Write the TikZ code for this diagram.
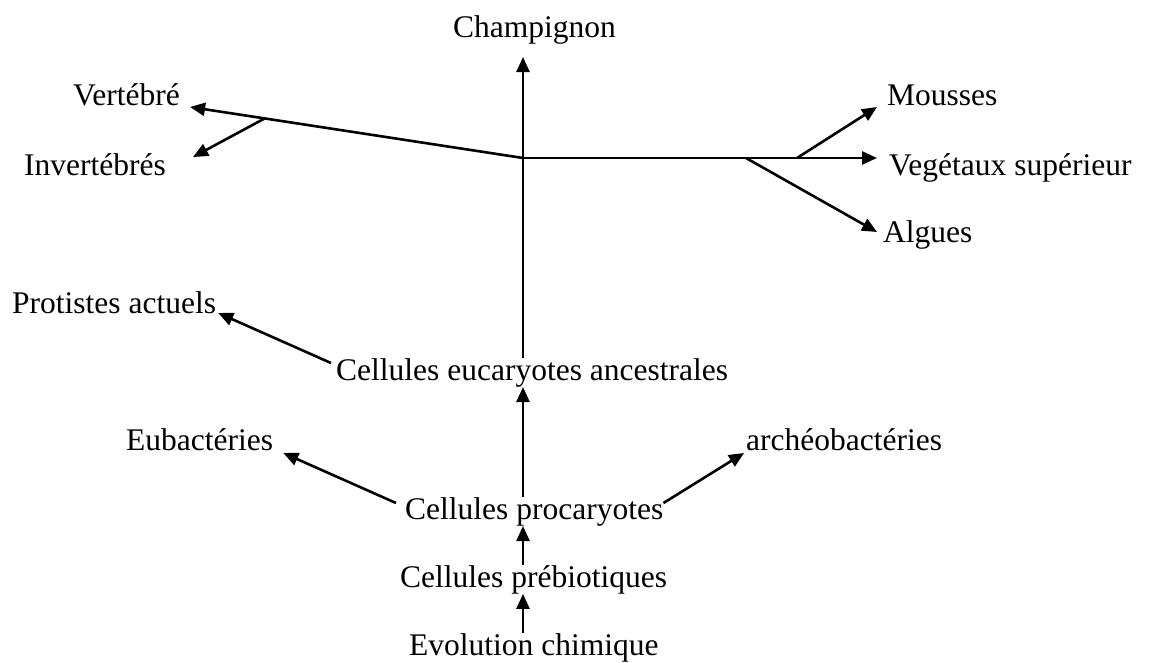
\documentclass[tikz,border=0pt]{standalone}
\usepackage{fontspec}
\setmainfont{Liberation Serif}
\usetikzlibrary{arrows.meta,calc}

\begin{document}
\begin{tikzpicture}[
  x=1pt, y=-1pt,
  font=\fontsize{31.5}{38}\selectfont,
  lbl/.style={inner sep=0pt, anchor=base west},
  link/.style={line width=2.6pt},
  >={Triangle[length=15pt,width=13pt]},
]
  \useasboundingbox (0,0) rectangle (1151,662);

  % main column
  \node[lbl] (evol) at (409,655) {Evolution chimique};
  \node[lbl] (preb) at (400,587) {Cellules prébiotiques};
  \node[lbl] (proc) at (405,519) {Cellules procaryotes};
  \node[lbl] (euc) at (336,380) {Cellules eucaryotes ancestrales};
  \node[lbl] (champ) at (453,37) {Champignon};

  % side labels
  \node[lbl] (eub) at (126,450) {Eubactéries};
  \node[lbl] (arch) at (746,450) {archéobactéries};
  \node[lbl] (prot) at (12,313) {Protistes actuels};
  \node[lbl] (vert) at (73,105) {Vertébré};
  \node[lbl] (invert) at (24,175) {Invertébrés};
  \node[lbl] (mous) at (887,105) {Mousses};
  \node[lbl] (veg) at (889,175) {Vegétaux supérieur};
  \node[lbl] (alg) at (883,242) {Algues};

  % branching points
  \coordinate (jn) at (523,158);
  \coordinate (vert-in) at ([shift={(10,2)}]vert.base east);
  \coordinate (bv) at ($(jn)!0.776!(vert-in)$);
  \coordinate (ba) at (746,158);
  \coordinate (bm) at (797,158);

  \draw[link,->] (evol.north -| jn) -- (preb.south -| jn);
  \draw[link,->] (preb.north -| jn) -- (proc.south -| jn);
  \draw[link,->] (proc.north -| jn) -- (euc.south -| jn);
  \draw[link] (euc.north -| jn) -- (jn);
  \draw[link,->,shorten >=13pt] (jn) -- (champ.south -| jn);

  \draw[link,->] ([shift={(-9,-16)}]proc.base west) -- ([shift={(10,3)}]eub.base east);
  \draw[link,->] ([shift={(0,-16)}]proc.base east) -- ([shift={(-2,3)}]arch.base west);
  \draw[link,->] ([shift={(-5,-17)}]euc.base west) -- ([shift={(2,0)}]prot.base east);

  \draw[link,->] (jn) -- (vert-in);
  \draw[link,->] (bv) -- ([shift={(27,-18)}]invert.base east);
  \draw[link,->] (jn) -- ([shift={(-12,-17)}]veg.base west);
  \draw[link,->] (bm) -- ([shift={(-10,2)}]mous.base west);
  \draw[link,->] (ba) -- ([shift={(-6,-10)}]alg.base west);
\end{tikzpicture}
\end{document}
